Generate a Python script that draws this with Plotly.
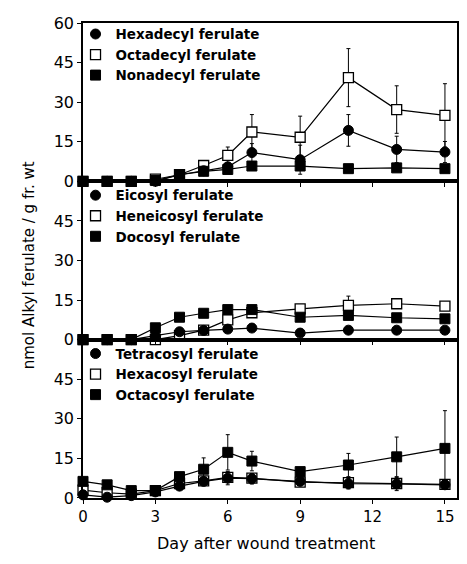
import plotly.graph_objects as go
from plotly.subplots import make_subplots

days = [0, 1, 2, 3, 4, 5, 6, 7, 9, 11, 13, 15]

# Top panel
hexadecyl = [0, 0, 0, 0, 2.5, 4.0, 5.5, 10.9, 8.2, 19.3, 12.1, 11.1]
hexadecyl_err = [0, 0, 0, 0, 0.5, 1.0, 1.5, 3.4, 5.5, 6.0, 5.0, 4.0]
octadecyl = [0, 0, 0, 0.8, 2.5, 6.0, 9.8, 18.7, 16.7, 39.3, 27.2, 25.0]
octadecyl_err = [0, 0, 0, 0, 0.5, 1.0, 3.2, 6.6, 8.0, 11.0, 9.0, 12.0]
nonadecyl = [0, 0, 0, 0.3, 2.5, 3.8, 4.5, 5.8, 5.8, 4.8, 5.1, 4.8]
nonadecyl_err = [0, 0, 0, 0, 0.3, 0.5, 1.0, 1.0, 1.0, 1.0, 1.0, 1.0]

# Middle panel
eicosyl = [0, 0, 0, 1.5, 3.0, 3.5, 4.0, 4.4, 2.5, 3.6, 3.6, 3.6]
eicosyl_err = [0, 0, 0, 0, 0.5, 0.5, 0.8, 0.8, 0.5, 0.8, 0.5, 0.5]
heneicosyl = [0, 0, 0, 0, 1.5, 3.6, 7.5, 10.2, 11.7, 13.0, 13.6, 12.7]
heneicosyl_err = [0, 0, 0, 0, 0.5, 0.8, 1.5, 1.0, 1.0, 3.5, 1.0, 1.0]
docosyl = [0, 0, 0, 4.5, 8.5, 10.0, 11.4, 11.4, 8.5, 9.2, 8.3, 7.9]
docosyl_err = [0, 0, 0, 0.5, 0.5, 0.5, 1.0, 1.0, 0.8, 0.8, 0.8, 0.8]

# Bottom panel
tetracosyl = [1.2, 0.3, 0.9, 2.3, 4.5, 6.3, 7.5, 7.3, 6.3, 5.4, 5.3, 5.0]
tetracosyl_err = [0, 0, 0, 0, 0.5, 0.8, 2.5, 2.0, 0.8, 2.0, 2.5, 1.0]
hexacosyl = [3.0, 2.0, 1.5, 2.8, 5.5, 6.5, 7.8, 7.5, 6.0, 5.8, 5.5, 5.2]
hexacosyl_err = [0, 0, 0, 0, 0.5, 0.5, 1.0, 1.0, 0.5, 1.0, 1.0, 1.0]
octacosyl = [6.3, 5.0, 2.8, 2.8, 8.1, 10.9, 17.3, 14.0, 10.0, 12.5, 15.6, 18.8]
octacosyl_err = [0, 0, 0, 0, 0.5, 4.3, 6.7, 3.7, 0.5, 4.4, 7.5, 14.3]

x_ticks = [0, 3, 6, 9, 12, 15]
y_ticks_top = [0, 15, 30, 45, 60]
y_ticks = [0, 15, 30, 45]

FONT = "DejaVu Sans, Liberation Sans, Arial, sans-serif"

fig = make_subplots(rows=3, cols=1, shared_xaxes=True, vertical_spacing=0)

FILLED_CIRCLE = dict(symbol="circle", size=10, color="black", line=dict(color="black", width=1))
OPEN_SQUARE = dict(symbol="square", size=10, color="white", line=dict(color="black", width=1.3))
FILLED_SQUARE = dict(symbol="square", size=10, color="black", line=dict(color="black", width=1))

panels = [
    (1, "legend", [("Hexadecyl ferulate", hexadecyl, hexadecyl_err, FILLED_CIRCLE),
                   ("Octadecyl ferulate", octadecyl, octadecyl_err, OPEN_SQUARE),
                   ("Nonadecyl ferulate", nonadecyl, nonadecyl_err, FILLED_SQUARE)]),
    (2, "legend2", [("Eicosyl ferulate", eicosyl, eicosyl_err, FILLED_CIRCLE),
                    ("Heneicosyl ferulate", heneicosyl, heneicosyl_err, OPEN_SQUARE),
                    ("Docosyl ferulate", docosyl, docosyl_err, FILLED_SQUARE)]),
    (3, "legend3", [("Tetracosyl ferulate", tetracosyl, tetracosyl_err, FILLED_CIRCLE),
                    ("Hexacosyl ferulate", hexacosyl, hexacosyl_err, OPEN_SQUARE),
                    ("Octacosyl ferulate", octacosyl, octacosyl_err, FILLED_SQUARE)]),
]

draw_order = [1, 2, 0]  # open squares, filled squares, then circles on top
for row, leg, series in panels:
    for idx in draw_order:
        name, vals, err, marker = series[idx]
        fig.add_trace(go.Scatter(
            x=days, y=vals, name=name, mode="lines+markers",
            line=dict(color="black", width=1.2),
            marker=marker,
            error_y=dict(type="data", array=err, color="black", thickness=1, width=2),
            cliponaxis=False, showlegend=False,
        ), row=row, col=1)
    # legend-only entries (marker symbol only, as in the original key)
    for rank, (name, vals, err, marker) in enumerate(series, start=1):
        fig.add_trace(go.Scatter(
            x=[None], y=[None], name=name, mode="markers", marker=marker,
            legend=leg, legendrank=rank, showlegend=True,
        ), row=row, col=1)

ytick_font = dict(family=FONT, size=16, color="black")
xtick_font = dict(family=FONT, size=15, color="black")
for r in (1, 2, 3):
    fig.update_yaxes(range=[0, 60], tickvals=y_ticks_top if r == 1 else y_ticks,
                     showline=True, linecolor="black", linewidth=1.5, mirror=True,
                     ticks="outside", ticklen=4, tickcolor="black", automargin=False,
                     showgrid=False, zeroline=False, tickfont=ytick_font, row=r, col=1)
    fig.update_xaxes(range=[0, 15.5], tickvals=x_ticks,
                     showline=True, linecolor="black", linewidth=1.5, mirror=True,
                     ticks="outside", ticklen=4, tickcolor="black", automargin=False,
                     showgrid=False, zeroline=False, tickfont=xtick_font,
                     row=r, col=1)
fig.update_xaxes(showticklabels=True, row=3, col=1)

leg_font = dict(family=FONT, size=13.5, color="black", weight="bold")
leg_common = dict(x=-0.02, xanchor="left", yanchor="top", bgcolor="rgba(0,0,0,0)",
                  font=leg_font, itemwidth=30, tracegroupgap=0, traceorder="normal")

# the page body adds an 8 px offset, so the figure is sized to fit the window
fig.update_layout(
    width=459, height=556,
    margin=dict(l=75, r=10, t=15, b=66, autoexpand=False),
    paper_bgcolor="white", plot_bgcolor="white",
    showlegend=True,
    legend=dict(y=1.0 + 0.009, **leg_common),
    legend2=dict(y=2/3 + 0.003, **leg_common),
    legend3=dict(y=1/3 + 0.003, **leg_common),
    annotations=[
        dict(text="Day after wound treatment", xref="paper", yref="paper",
             x=0.49, y=0, yshift=-45, xanchor="center", yanchor="middle", showarrow=False,
             font=dict(family=FONT, size=16, color="black")),
        dict(text="nmol Alkyl ferulate / g fr. wt", xref="paper", yref="paper",
             x=0, xshift=-54, y=0.49, xanchor="center", yanchor="middle", textangle=-90, showarrow=False,
             font=dict(family=FONT, size=15, color="black")),
    ],
)

fig.write_html("out.html")
